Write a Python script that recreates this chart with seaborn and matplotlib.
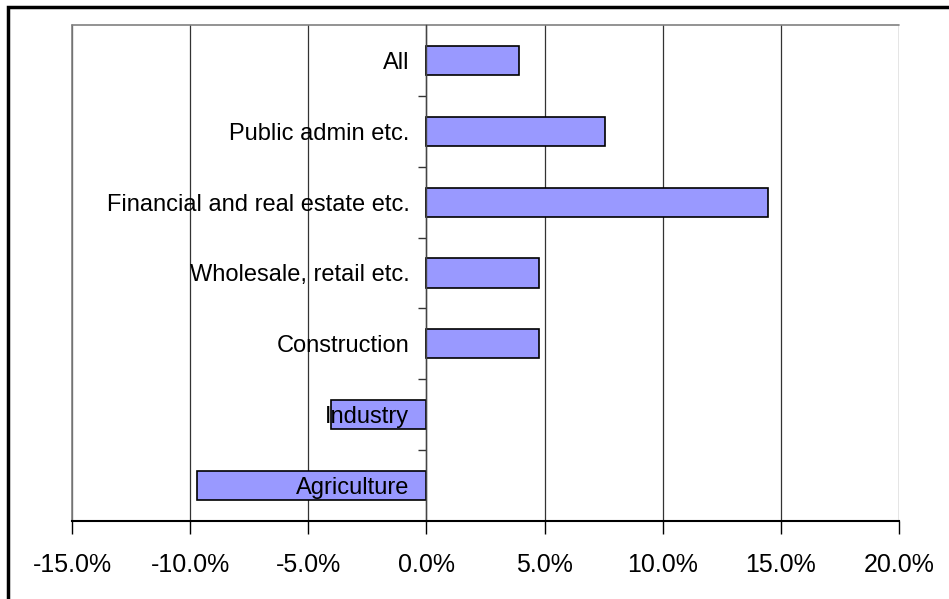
import matplotlib
matplotlib.use("Agg")
import matplotlib.pyplot as plt
import matplotlib.patches as mpatches
import matplotlib.transforms as mtransforms
from matplotlib.ticker import FuncFormatter, FixedLocator
import seaborn as sns

# Sector data (top to bottom as shown)
sectors = ["All", "Public admin etc.", "Financial and real estate etc.",
           "Wholesale, retail etc.", "Construction", "Industry", "Agriculture"]
change_pct = [3.9, 7.55, 14.45, 4.75, 4.75, -4.05, -9.7]
xticks = [-15, -10, -5, 0, 5, 10, 15, 20]

sns.set_theme(style="white")
plt.rcParams['font.family'] = ['Liberation Sans', 'DejaVu Sans']

fig = plt.figure(figsize=(9.49, 5.99), dpi=100)
ax = fig.add_axes([72 / 949, 1 - 521 / 599, (899 - 72) / 949, (521 - 25) / 599])

sns.barplot(x=change_pct, y=sectors, orient="h", color="#9999FF",
            edgecolor="black", linewidth=1.2, width=0.41, saturation=1, ax=ax)

ax.set_xlim(-15, 20)
ax.set_ylim(6.5, -0.5)
ax.set_xticks(xticks)
ax.xaxis.set_major_formatter(FuncFormatter(lambda v, p: f"{v:.1f}%"))
ax.tick_params(axis="x", labelsize=18, length=9, width=1, color="black",
               labelcolor="black", direction="out", pad=14, bottom=True)
ax.grid(axis="x", color="#333333", linewidth=0.9)
ax.set_axisbelow(True)

# y axis sits at zero, category names drawn on top of the bars
ax.spines["left"].set_position(("data", 0))
ax.spines["left"].set_color("#444444")
ax.spines["left"].set_linewidth(1.0)
ax.spines["bottom"].set_color("black")
ax.spines["bottom"].set_linewidth(1.5)
for s in ["top", "right"]:
    ax.spines[s].set_visible(False)
ax.tick_params(axis="y", which="major", length=0, labelleft=False)
ax.yaxis.set_minor_locator(FixedLocator([i + 0.5 for i in range(len(sectors) - 1)]))
ax.tick_params(axis="y", which="minor", length=6, width=1, color="#333333", left=True)
ax.set_xlabel("")
ax.set_ylabel("")

offset = mtransforms.offset_copy(ax.transData, fig=fig, x=-17, y=0, units="dots")
for i, name in enumerate(sectors):
    ax.text(0, i, name, transform=offset, ha="right", va="center_baseline",
            fontsize=17, color="black", zorder=10)

# gray plot-area frame on top and left
ax.plot([0, 1], [1, 1], transform=ax.transAxes, color="#808080", lw=1.2, clip_on=False)
ax.plot([0, 0], [0, 1], transform=ax.transAxes, color="#808080", lw=1.2, clip_on=False)

# outer chart border
fig.patches.append(mpatches.Rectangle((8 / 949, -0.2), 1.2, 1.2 - 7 / 599,
                                      transform=fig.transFigure, fill=False,
                                      edgecolor="black", linewidth=2.5))

fig.savefig("out.png", dpi=100)
